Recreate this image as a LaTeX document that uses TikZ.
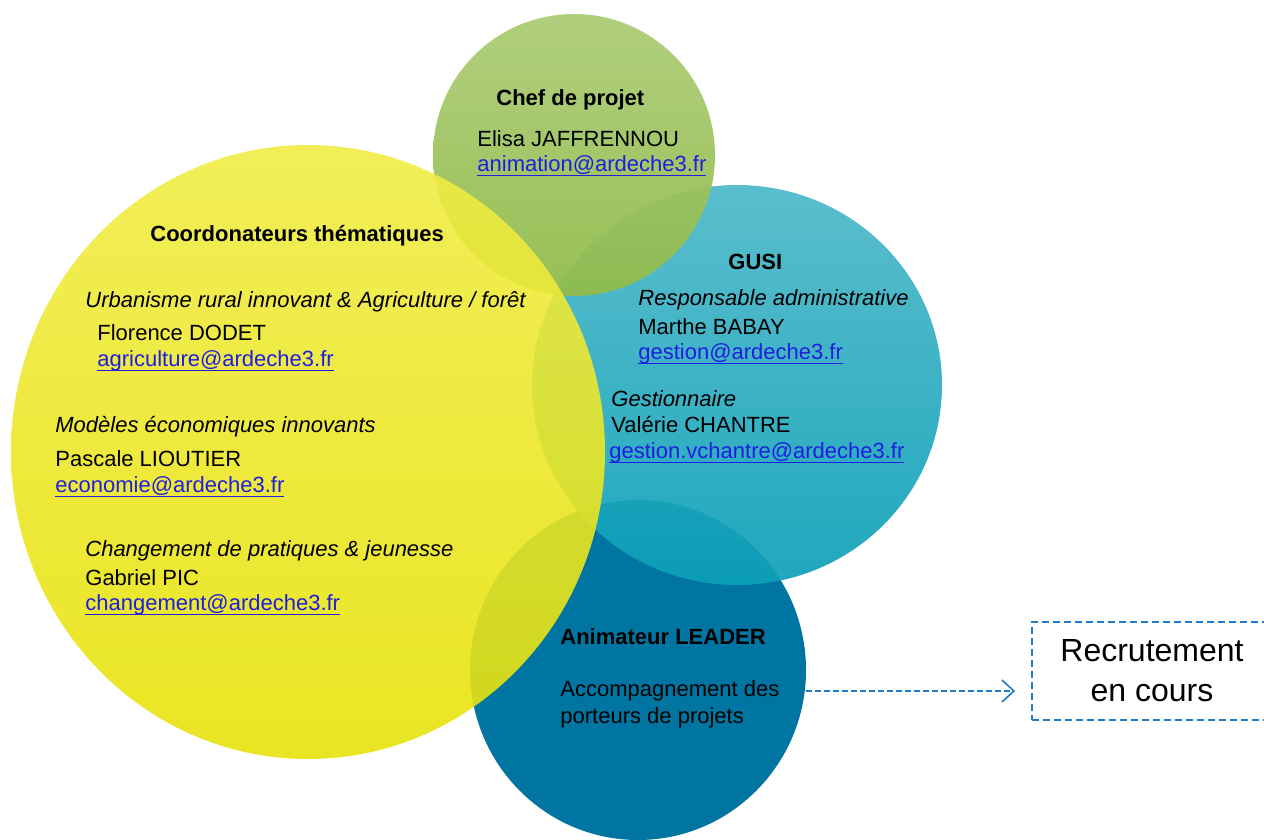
\documentclass[tikz,border=0pt]{standalone}
\usepackage{fontspec}
\setmainfont{Liberation Sans}
\usetikzlibrary{arrows.meta}
\definecolor{jaune}{RGB}{232,226,10}
\definecolor{jauneh}{RGB}{240,236,70}
\definecolor{vert}{RGB}{146,188,76}
\definecolor{verth}{RGB}{172,204,118}
\definecolor{turq}{RGB}{12,160,184}
\definecolor{turqh}{RGB}{76,184,200}
\definecolor{bleu}{RGB}{0,117,162}
\definecolor{lien}{RGB}{30,30,225}
\definecolor{tiret}{RGB}{28,122,198}
\newcommand\mail[1]{\textcolor{lien}{\setbox0\hbox{#1}\rlap{\rule[-2.2pt]{\wd0}{0.5pt}}\box0}}
\tikzset{
  txt/.style={anchor=west,inner sep=0pt,yshift=-1pt,font=\fontsize{11}{13}\selectfont},
  titre/.style={txt,font=\fontsize{11}{13}\selectfont\bfseries},
  theme/.style={txt,font=\fontsize{11}{13}\selectfont\itshape},
  recbox/.style={draw=tiret,line width=0.9pt,dash pattern=on 3.5pt off 2pt,
    minimum width=120pt,minimum height=49pt,align=center,inner sep=0pt,
    font=\fontsize{16}{20}\selectfont},
  fleche/.style={tiret,line width=0.7pt,dash pattern=on 3pt off 1.5pt,-{Straight Barb[length=6pt,width=11pt,line width=0.8pt]}}
}
\begin{document}
\begin{tikzpicture}[x=0.5pt,y=-0.5pt]
        \useasboundingbox (0,0) rectangle (1264,840);
        % les quatre bulles
        \fill[bleu](638,670) ellipse [x radius=168,y radius=170];
        \shade[top color=turqh,bottom color=turq,opacity=0.92](737,385) ellipse [x radius=205,y radius=200];
        \shade[top color=verth,bottom color=vert,opacity=0.95](574,155) circle [radius=141];
        \shade[top color=jauneh,bottom color=jaune,opacity=0.9](308,452) ellipse [x radius=297,y radius=307];
        % Chef de projet
        \node[titre](chef)at(496,98){Chef de projet};
        \node[txt](elisa)at(477,137){Elisa JAFFRENNOU};
        \node[txt](melisa)at(477,164){\mail{animation@ardeche3.fr}};
        % Coordonateurs
        \node[titre](coord)at(150,234){Coordonateurs thématiques};
        \node[theme](urba)at(85,300){Urbanisme rural innovant \& Agriculture / forêt};
        \node[txt](flo)at(97,331){Florence DODET};
        \node[txt](mflo)at(97,359){\mail{agriculture@ardeche3.fr}};
        \node[theme](eco)at(55,425){Modèles économiques innovants};
        \node[txt](pascale)at(55,457){Pascale LIOUTIER};
        \node[txt](mpascale)at(55,485){\mail{economie@ardeche3.fr}};
        \node[theme](chang)at(85,549){Changement de pratiques \& jeunesse};
        \node[txt](gab)at(85,576){Gabriel PIC};
        \node[txt](mgab)at(85,603){\mail{changement@ardeche3.fr}};
        % GUSI
        \node[titre](gusi)at(728,260){GUSI};
        \node[theme](resp)at(638,298){Responsable administrative};
        \node[txt](marthe)at(638,325){Marthe BABAY};
        \node[txt](mmarthe)at(638,352){\mail{gestion@ardeche3.fr}};
        \node[theme](gest)at(611,397){Gestionnaire};
        \node[txt](valerie)at(611,423){Valérie CHANTRE};
        \node[txt](mvalerie)at(609,451){\mail{gestion.vchantre@ardeche3.fr}};
        % Animateur
        \node[titre](leader)at(560,635){Animateur LEADER};
        \node[txt](acc)at(560,689){Accompagnement des};
        \node[txt](port)at(560,716){porteurs de projets};
        \node[recbox](rec)at(1152,671){Recrutement\\en cours};
        \draw[fleche]([xshift=13pt]acc.east)--([xshift=-8pt]acc.east-|rec.west);
    \end{tikzpicture}
\end{document}
